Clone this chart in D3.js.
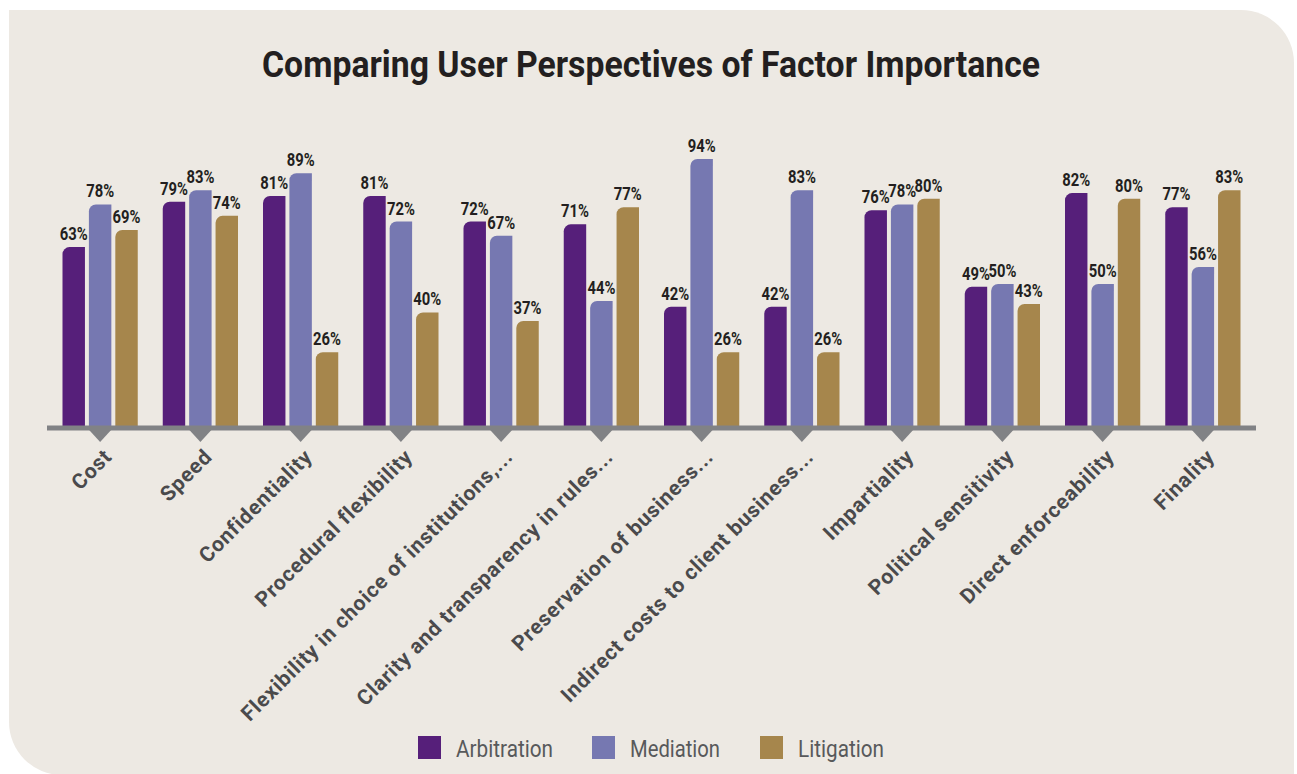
<!DOCTYPE html>
<html>
<head>
<meta charset="utf-8">
<script src="https://cdn.jsdelivr.net/npm/d3@7"></script>
<style>
  html, body { margin: 0; padding: 0; background: #ffffff; }
  svg { display: block; }
</style>
</head>
<body>
<svg id="chart" width="1297" height="774"></svg>
<script>
// Share of users rating each factor as important, by dispute resolution method (%)
const categories = [
  "Cost",
  "Speed",
  "Confidentiality",
  "Procedural flexibility",
  "Flexibility in choice of institutions,...",
  "Clarity and transparency in rules...",
  "Preservation of business...",
  "Indirect costs to client business...",
  "Impartiality",
  "Political sensitivity",
  "Direct enforceability",
  "Finality"
];
const seriesNames = ["Arbitration", "Mediation", "Litigation"];
const arbitration = [63, 79, 81, 81, 72, 71, 42, 42, 76, 49, 82, 77];
const mediation   = [78, 83, 89, 72, 67, 44, 94, 83, 78, 50, 50, 56];
const litigation  = [69, 74, 26, 40, 37, 77, 26, 26, 80, 43, 80, 83];
const seriesValues = [arbitration, mediation, litigation];
const colors = ["#561f7a", "#7678b1", "#a6864c"];

const svg = d3.select("#chart");

// Background panel: square top-left, rounded top-right and bottom-left
const px0 = 9, py0 = 10, px1 = 1294, py1 = 775, r = 53;
svg.append("path")
  .attr("d", `M${px0},${py0} H${px1 - r} A${r},${r} 0 0 1 ${px1},${py0 + r} V${py1} H${px0 + r} A${r},${r} 0 0 1 ${px0},${py1 - r} Z`)
  .attr("fill", "#ede9e3");

// Title
svg.append("text")
  .attr("x", 651).attr("y", 77)
  .attr("text-anchor", "middle")
  .attr("font-family", "Roboto, 'Liberation Sans', sans-serif")
  .attr("font-weight", 700)
  .attr("font-size", 37)
  .attr("fill", "#231f20")
  .attr("textLength", 778)
  .attr("lengthAdjust", "spacingAndGlyphs")
  .text("Comparing User Perspectives of Factor Importance");

// Scales
const x0 = d3.scaleBand().domain(categories).range([50, 1253]).padding(0);
const x1 = d3.scaleBand().domain(seriesNames)
  .range([12.5, x0.bandwidth() - 12.5]).paddingInner(0.15).paddingOuter(0);
const y = d3.scaleLinear().domain([0, 100]).range([426, 142]);

const rows = categories.map((c, i) => ({
  cat: c,
  vals: seriesNames.map((s, k) => ({ s, k, v: seriesValues[k][i] }))
}));

// Bar with a rounded top-left corner
function barPath(x, yTop, w, yBase, rad) {
  const rr = Math.min(rad, w, yBase - yTop);
  return `M${x},${yBase} V${yTop + rr} A${rr},${rr} 0 0 1 ${x + rr},${yTop} H${x + w} V${yBase} Z`;
}

const groups = svg.append("g").selectAll("g")
  .data(rows).join("g")
  .attr("transform", d => `translate(${x0(d.cat)},0)`);

groups.selectAll("path")
  .data(d => d.vals).join("path")
  .attr("d", d => barPath(x1(d.s), y(d.v), x1.bandwidth(), y(0), 7))
  .attr("fill", d => colors[d.k]);

// Value labels
groups.selectAll("g.lbl")
  .data(d => d.vals).join("g")
  .attr("class", "lbl")
  .attr("transform", d => `translate(${x1(d.s) + x1.bandwidth() / 2},${y(d.v) - 7}) scale(0.8,1)`)
  .append("text")
  .attr("text-anchor", "middle")
  .attr("font-family", "Roboto, 'Liberation Sans', sans-serif")
  .attr("font-weight", 700)
  .attr("font-size", 18.5)
  .attr("fill", "#231f20")
  .text(d => d.v + "%");

// Axis line with downward tick markers
svg.append("rect")
  .attr("x", 47).attr("y", 425.5)
  .attr("width", 1256 - 47).attr("height", 5)
  .attr("fill", "#818285");

const axisG = svg.append("g");
axisG.selectAll("path.tick")
  .data(categories).join("path")
  .attr("class", "tick")
  .attr("d", d => {
    const cx = x0(d) + x0.bandwidth() / 2;
    return `M${cx - 11},430 L${cx + 11},430 L${cx},442 Z`;
  })
  .attr("fill", "#818285");

axisG.selectAll("text")
  .data(categories).join("text")
  .attr("transform", d => `translate(${x0(d) + x0.bandwidth() / 2 + 13},458) rotate(-45)`)
  .attr("text-anchor", "end")
  .attr("font-family", "Roboto, 'Liberation Sans', sans-serif")
  .attr("font-weight", 700)
  .attr("font-size", 21)
  .attr("letter-spacing", 0.8)
  .attr("fill", "#4a4a4c")
  .text(d => d);

// Legend
const legendX = [418, 592, 760];
const legendW = [97, 90, 86];
const legend = svg.append("g").selectAll("g")
  .data(seriesNames).join("g")
  .attr("transform", (d, i) => `translate(${legendX[i]},736)`);
legend.append("rect")
  .attr("width", 23).attr("height", 23)
  .attr("fill", (d, i) => colors[i]);
legend.append("text")
  .attr("x", 38).attr("y", 21)
  .attr("font-family", "Roboto, 'Liberation Sans', sans-serif")
  .attr("font-weight", 400)
  .attr("font-size", 23)
  .attr("fill", "#58595b")
  .attr("textLength", (d, i) => legendW[i])
  .attr("lengthAdjust", "spacingAndGlyphs")
  .text(d => d);
</script>
</body>
</html>
